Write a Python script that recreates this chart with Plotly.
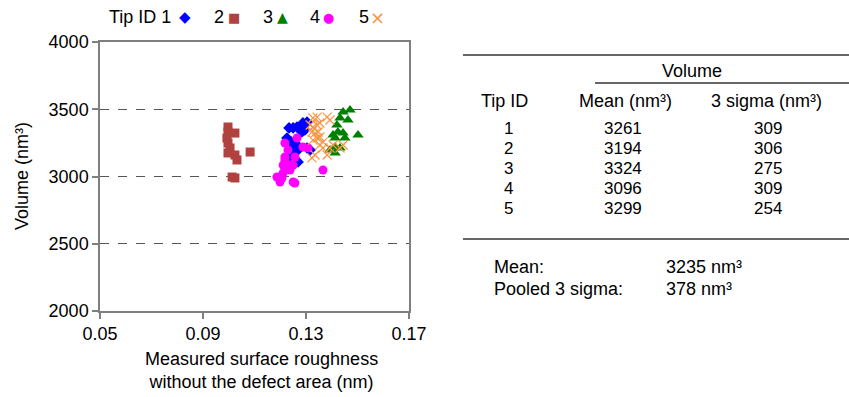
import plotly.graph_objects as go

# ---------------- data ----------------
tip1_x = [0.1234, 0.1250, 0.1265, 0.1281, 0.1288, 0.1304, 0.1284, 0.1296, 0.1226, 0.1242,
          0.1250, 0.1246, 0.1265, 0.1269, 0.1304, 0.1316, 0.1230, 0.1257, 0.1269, 0.1250]
tip1_y = [3361, 3361, 3368, 3361, 3398, 3405, 3331, 3346, 3286, 3257,
          3219, 3182, 3234, 3197, 3212, 3197, 3138, 3100, 3108, 3160]

tip2_x = [0.0997, 0.0997, 0.1024, 0.0993, 0.0997, 0.1005, 0.0997, 0.1024, 0.1032, 0.1083, 0.1013, 0.1024]
tip2_y = [3368, 3331, 3323, 3286, 3249, 3212, 3175, 3160, 3123, 3182, 2996, 2989]

tip3_x = [0.1444, 0.1471, 0.1432, 0.1463, 0.1420, 0.1405, 0.1413, 0.1444, 0.1451, 0.1424,
          0.1502, 0.1393, 0.1413, 0.1432, 0.1413]
tip3_y = [3480, 3494, 3435, 3420, 3383, 3309, 3286, 3323, 3286, 3331,
          3309, 3197, 3175, 3212, 3219]

tip4_x = [0.1218, 0.1265, 0.1230, 0.1257, 0.1218, 0.1211, 0.1226, 0.1238, 0.1250, 0.1288,
          0.1308, 0.1238, 0.1187, 0.1207, 0.1211, 0.1199, 0.1250, 0.1257, 0.1366, 0.1218]
tip4_y = [3249, 3286, 3197, 3145, 3123, 3085, 3071, 3085, 3085, 3219,
          3212, 3048, 2996, 2989, 3026, 2959, 2959, 2952, 3048, 3145]

tip5_x = [0.1327, 0.1343, 0.1316, 0.1327, 0.1343, 0.1354, 0.1323, 0.1335, 0.1347, 0.1354,
          0.1343, 0.1327, 0.1366, 0.1382, 0.1393, 0.1366, 0.1354, 0.1393, 0.1405, 0.1444,
          0.1335, 0.1323, 0.1382, 0.1432]
tip5_y = [3435, 3442, 3383, 3368, 3383, 3398, 3331, 3323, 3331, 3294,
          3286, 3271, 3256, 3442, 3420, 3212, 3234, 3212, 3234, 3234,
          3160, 3138, 3160, 3212]

tip_ids = ["1", "2", "3", "4", "5"]
mean_vol = [3261, 3194, 3324, 3096, 3299]
sigma3_vol = [309, 306, 275, 309, 254]
overall_mean = 3235
pooled_sigma3 = 378

x_ticks = [0.05, 0.09, 0.13, 0.17]
y_ticks = [2000, 2500, 3000, 3500, 4000]

# ---------------- styling ----------------
FONT = "Liberation Sans, Arial, sans-serif"
colors = ["#0000ff", "#b0413e", "#008000", "#ff00ff", "#f79646"]
symbols = ["diamond", "square", "triangle-up", "circle", "x-thin-open"]
sizes = [9, 9, 10, 9, 9]
glyphs = ["\u25C6", "\u25A0", "\u25B2", "\u25CF", "\u00D7"]

W, H = 849, 397
L, R, T, B = 100, 440, 42, 86
PW, PH = W - L - R, H - T - B


def px(x):
    return (x - L) / PW


def py(y):
    return (H - B - y) / PH


fig = go.Figure()
xs = [tip1_x, tip2_x, tip3_x, tip4_x, tip5_x]
ys = [tip1_y, tip2_y, tip3_y, tip4_y, tip5_y]
for i in range(5):
    marker = dict(symbol=symbols[i], size=sizes[i], color=colors[i])
    if symbols[i].endswith("open"):
        marker["line"] = dict(color=colors[i], width=1.2)
    else:
        marker["line"] = dict(width=0)
    fig.add_trace(go.Scatter(x=xs[i], y=ys[i], mode="markers", name=tip_ids[i],
                             marker=marker, showlegend=False))

ann = []
# legend (text before symbol, as in the reference)
leg_text_x = [107, 212, 261, 308, 357]
leg_glyph_x = [185, 234, 282, 328, 377]
leg_glyph_size = [15, 13, 14, 13, 18]
for i in range(5):
    label = ("Tip ID " if i == 0 else "") + tip_ids[i]
    ann.append(dict(x=px(leg_text_x[i]), y=py(17), text=label, xanchor="left", yanchor="middle",
                    font=dict(size=18, color="black")))
    ann.append(dict(x=px(leg_glyph_x[i]), y=py(17), text=glyphs[i], xanchor="center", yanchor="middle",
                    font=dict(size=leg_glyph_size[i], color=colors[i], family="DejaVu Sans")))

# axis titles
ann.append(dict(x=px(261), y=py(370), text="Measured surface roughness<br>without the defect area (nm)",
                xanchor="center", yanchor="middle", font=dict(size=18, color="black")))
ann.append(dict(x=px(22), y=py(176), text="Volume (nm³)", textangle=-90,
                xanchor="center", yanchor="middle", font=dict(size=18, color="black")))

# table
TF = 18
RF = 17
tbl = []
tbl.append(dict(x=px(692), y=py(71), text="Volume", xanchor="center", font=dict(size=TF)))
tbl.append(dict(x=px(504), y=py(101), text="Tip ID", xanchor="center", font=dict(size=TF)))
tbl.append(dict(x=px(625), y=py(101), text="Mean (nm³)", xanchor="center", font=dict(size=TF)))
tbl.append(dict(x=px(767), y=py(101), text="3 sigma (nm³)", xanchor="center", font=dict(size=TF)))
row_y = [128, 148, 168, 188, 208]
for i in range(5):
    tbl.append(dict(x=px(508), y=py(row_y[i]), text=tip_ids[i], xanchor="center", font=dict(size=RF)))
    tbl.append(dict(x=px(623), y=py(row_y[i]), text=str(mean_vol[i]), xanchor="center", font=dict(size=RF)))
    tbl.append(dict(x=px(768), y=py(row_y[i]), text=str(sigma3_vol[i]), xanchor="center", font=dict(size=RF)))
tbl.append(dict(x=px(493), y=py(267), text="Mean:", xanchor="left", font=dict(size=TF)))
tbl.append(dict(x=px(665), y=py(267), text=f"{overall_mean} nm³", xanchor="left", font=dict(size=TF)))
tbl.append(dict(x=px(493), y=py(289), text="Pooled 3 sigma:", xanchor="left", font=dict(size=TF)))
tbl.append(dict(x=px(665), y=py(289), text=f"{pooled_sigma3} nm³", xanchor="left", font=dict(size=TF)))
for t in tbl:
    t.update(yanchor="middle", borderpad=0)
ann.extend(tbl)

for a in ann:
    a.update(xref="paper", yref="paper", showarrow=False)

shapes = [
    dict(type="line", xref="paper", yref="paper", x0=px(463), x1=px(849), y0=py(55), y1=py(55),
         line=dict(color="#333", width=1.6)),
    dict(type="line", xref="paper", yref="paper", x0=px(595), x1=px(849), y0=py(83), y1=py(83),
         line=dict(color="#333", width=1.6)),
    dict(type="line", xref="paper", yref="paper", x0=px(463), x1=px(849), y0=py(239), y1=py(239),
         line=dict(color="#333", width=1.6)),
]

fig.update_layout(
    width=W, height=H,
    margin=dict(l=L, r=R, t=T, b=B, pad=0),
    paper_bgcolor="white", plot_bgcolor="white",
    font=dict(family=FONT, size=18, color="black"),
    showlegend=False,
    annotations=ann, shapes=shapes,
    xaxis=dict(range=[0.05, 0.17], tickvals=x_ticks, tickformat=".2f", showgrid=False, zeroline=False,
               showline=True, linecolor="#7f7f7f", linewidth=1.5, mirror=True,
               ticks="outside", ticklen=6, tickcolor="#7f7f7f", tickwidth=1.5,
               tickfont=dict(size=18)),
    yaxis=dict(range=[2000, 4000], tickvals=y_ticks, showgrid=True, gridcolor="#555", griddash="dash",
               gridwidth=1, zeroline=False,
               showline=True, linecolor="#7f7f7f", linewidth=1.5, mirror=True,
               ticks="outside", ticklen=6, tickcolor="#7f7f7f", tickwidth=1.5,
               tickfont=dict(size=18)),
)

fig.write_html("out.html")
